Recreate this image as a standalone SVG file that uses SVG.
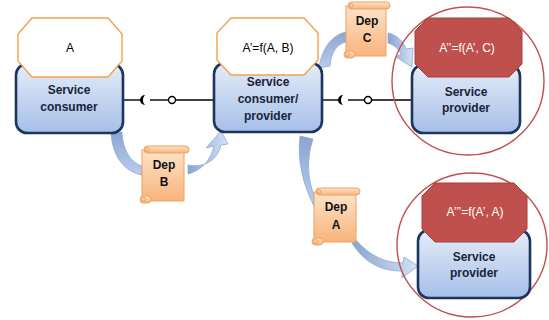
<svg xmlns="http://www.w3.org/2000/svg" width="549" height="320" viewBox="0 0 549 320">
<defs>
<linearGradient id="boxg" x1="0" y1="0" x2="0" y2="1">
<stop offset="0" stop-color="#e4ecf9"/>
<stop offset="1" stop-color="#a6bfe8"/>
</linearGradient>
<linearGradient id="scrollg" x1="0" y1="0" x2="0" y2="1">
<stop offset="0" stop-color="#fde3c8"/>
<stop offset="1" stop-color="#f8b47c"/>
</linearGradient>
<linearGradient id="arrg" x1="0" y1="0" x2="1" y2="0">
<stop offset="0" stop-color="#8aa3d0"/>
<stop offset="1" stop-color="#d3e2f6"/>
</linearGradient>
<linearGradient id="arrg2" x1="0" y1="0" x2="0" y2="1">
<stop offset="0" stop-color="#8ba4d0"/>
<stop offset="1" stop-color="#b9cdee"/>
</linearGradient>
</defs>
<style>
.box{fill:url(#boxg);stroke:#1b355f;stroke-width:2.6}
.oct{fill:#ffffff;stroke:#f2a050;stroke-width:1.4}
.red{fill:#c0504d;stroke:#a43e3b;stroke-width:1}
.ring{fill:none;stroke:#c0504d;stroke-width:1.4}
.bt{font-family:"Liberation Sans",Arial,sans-serif;font-weight:bold;font-size:12px;fill:#1a2438;text-anchor:middle}
.ot{font-family:"Liberation Sans",Arial,sans-serif;font-size:12px;fill:#000000;text-anchor:middle}
.rt{font-family:"Liberation Sans",Arial,sans-serif;font-size:12px;fill:#ffffff;text-anchor:middle}
.st{font-family:"Liberation Sans",Arial,sans-serif;font-weight:bold;font-size:12px;fill:#111111;text-anchor:middle}
.sc{fill:url(#scrollg);stroke:#f0a060;stroke-width:1}
.ln{stroke:#000000;stroke-width:1.4;fill:none}
.sock{fill:#000000}
.ball{fill:#ffffff;stroke:#000000;stroke-width:1.4}
.arr{fill:url(#arrg);stroke:#90a8d4;stroke-width:0.8}
.arrd{fill:url(#arrg2);stroke:#90a8d4;stroke-width:0.8}
</style>

<g id="connectors">
<path class="ln" d="M123,100 H141"/>
<path class="sock" d="M145,95 A5,5 0 0 0 145,105 A7,7 0 0 1 145,95 Z"/>
<path class="ln" d="M150,100 H168.5"/>
<circle class="ball" cx="172" cy="100" r="3.5"/>
<path class="ln" d="M175.5,100 H214"/>
<path class="ln" d="M322,100 H339"/>
<path class="sock" d="M343,95 A5,5 0 0 0 343,105 A7,7 0 0 1 343,95 Z"/>
<path class="ln" d="M348,100 H364.5"/>
<circle class="ball" cx="368" cy="100" r="3.5"/>
<path class="ln" d="M371.5,100 H412"/>
<path class="arrd" d="M111,132 C112,158 126,172 142,175 L142,166 C132,163 123,152 122,132 Z"/>
<path class="arr" d="M188,174 C200,171 211,161 214,146 L206,148 L221,131 L228,144 L221,145 C217,162 202,168 188,165 Z"/>
<path class="arrd" d="M319,68 C322,48 332,35 346,32 L346,42 C337,44 331,52 330,66 Z"/>
<path class="arr" d="M388,33 C397,35 403,41 406,49 L413,48 L412,67 L396,57 L401,54 C398,48 394,45 388,43 Z"/>
<path class="arrd" d="M300,136 C297,160 303,185 314,206 L314,195 C308,180 306,160 313,139 Z"/>
<path class="arr" d="M352,243 C364,262 380,271 402,271 L402,278 L418,266 L404,257 L403,263 C384,263 369,255 356,240 Z"/>
</g>

<g id="consumer">
<rect class="box" x="16" y="64" width="107" height="69" rx="11"/>
<polygon class="oct" points="32,18 108,18 122,34 122,61 108,77 32,77 18,61 18,34"/>
<text class="ot" x="70" y="52">A</text>
<text class="bt" x="69" y="94">Service</text>
<text class="bt" x="69" y="111">consumer</text>
</g>

<g id="consumer-provider">
<rect class="box" x="214" y="63" width="108" height="69" rx="11"/>
<polygon class="oct" points="231,18 304,18 318,33 318,60 304,75 231,75 217,60 217,33"/>
<text class="ot" x="268" y="52">A’=f(A, B)</text>
<text class="bt" x="268" y="86">Service</text>
<text class="bt" x="268" y="103">consumer/</text>
<text class="bt" x="268" y="120">provider</text>
</g>

<g id="provider1">
<ellipse class="ring" cx="468" cy="81" rx="76" ry="74"/>
<rect class="box" x="412" y="65" width="108" height="68" rx="11"/>
<polygon class="red" points="428,18 509,18 522,31 522,64 509,77 428,77 415,64 415,31"/>
<text class="rt" x="467" y="52">A’’=f(A’, C)</text>
<text class="bt" x="466" y="96">Service</text>
<text class="bt" x="466" y="112">provider</text>
</g>

<g id="provider2">
<ellipse class="ring" cx="472" cy="245" rx="75" ry="72"/>
<rect class="box" x="418" y="230" width="112" height="68" rx="11"/>
<polygon class="red" points="435,183 514,183 527,196 527,229 514,242 435,242 422,229 422,196"/>
<text class="rt" x="475" y="216">A’’’=f(A’, A)</text>
<text class="bt" x="474" y="261">Service</text>
<text class="bt" x="474" y="277">provider</text>
</g>

<g id="depB" transform="translate(140,146)">
<rect class="sc" x="2" y="4" width="42" height="51"/>
<rect class="sc" x="4" y="0" width="45" height="7" rx="3.5"/>
<circle class="sc" cx="7" cy="3.5" r="2"/>
<rect class="sc" x="0" y="50" width="11" height="7" rx="3.5"/>
<circle class="sc" cx="3.5" cy="53.5" r="2"/>
<text class="st" x="24" y="23">Dep</text>
<text class="st" x="24" y="40">B</text>
</g>

<g id="depC" transform="translate(344,2)">
<rect class="sc" x="2" y="4" width="40" height="50"/>
<rect class="sc" x="4" y="0" width="42" height="7" rx="3.5"/>
<circle class="sc" cx="7" cy="3.5" r="2"/>
<rect class="sc" x="0" y="49" width="11" height="7" rx="3.5"/>
<circle class="sc" cx="3.5" cy="52.5" r="2"/>
<text class="st" x="23" y="23">Dep</text>
<text class="st" x="23" y="40">C</text>
</g>

<g id="depA" transform="translate(312,188)">
<rect class="sc" x="2" y="4" width="42" height="50"/>
<rect class="sc" x="4" y="0" width="44" height="7" rx="3.5"/>
<circle class="sc" cx="7" cy="3.5" r="2"/>
<rect class="sc" x="0" y="50" width="11" height="7" rx="3.5"/>
<circle class="sc" cx="3.5" cy="53.5" r="2"/>
<text class="st" x="24" y="23">Dep</text>
<text class="st" x="24" y="41">A</text>
</g>
</svg>
